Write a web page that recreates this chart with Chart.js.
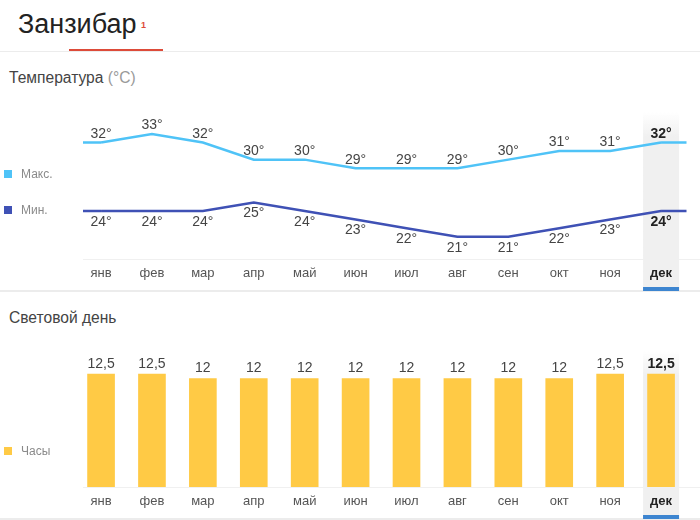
<!DOCTYPE html>
<html lang="ru"><head><meta charset="utf-8">
<script src="https://cdn.jsdelivr.net/npm/chart.js@4"></script>
<style>
html,body{margin:0;padding:0;background:#fff;width:700px;height:520px;overflow:hidden;font-family:"Liberation Sans",Arial,sans-serif}
.a{position:absolute;white-space:nowrap}
canvas{position:absolute;left:0}
.sq{position:absolute;left:4px;width:8px;height:8px}
.lg{position:absolute;left:21px;font-size:12px;line-height:14px;color:#8a8a8a}
.rule{position:absolute;left:0;width:700px;height:2px;background:#ececec}
</style></head><body>
<div class="a" style="left:18px;top:6px;font-size:27px;line-height:36px;color:#222">Занзибар</div>
<div class="a" style="left:141px;top:20px;font-size:9px;line-height:10px;font-weight:bold;color:#dd4b39">1</div>
<div class="rule" style="top:51px;height:1px"></div>
<div class="a" style="left:69px;top:49px;width:94px;height:2px;background:#dd4b39"></div>
<div class="a" style="left:9px;top:68px;font-size:15.6px;line-height:20px;color:#444">Температура <span style="color:#999">(°C)</span></div>
<div class="a" style="left:9px;top:308px;font-size:15.6px;line-height:20px;color:#444">Световой день</div>
<div class="rule" style="top:290px"></div>
<div class="rule" style="top:518px"></div>
<canvas id="temp" width="700" height="191" style="top:100px"></canvas>
<canvas id="sun" width="700" height="180" style="top:339px"></canvas>
<div class="sq" style="top:170px;background:#4fc3f7"></div><div class="lg" style="top:167px">Макс.</div>
<div class="sq" style="top:206px;background:#3f51b5"></div><div class="lg" style="top:203px">Мин.</div>
<div class="sq" style="top:447px;background:#ffca45"></div><div class="lg" style="top:444px">Часы</div>
<script>
const months = ['янв','фев','мар','апр','май','июн','июл','авг','сен','окт','ноя','дек'];
const maxTemp = [32,33,32,30,30,29,29,29,30,31,31,32];
const minTemp = [24,24,24,25,24,23,22,21,21,22,23,24];
const dayHours = [12.5,12.5,12,12,12,12,12,12,12,12,12.5,12.5];
const currentMonth = 11;

const FONT = '"Liberation Sans",Arial,sans-serif';
const band = {id:'band',beforeDraw(c){
  const x=c.scales.x.getPixelForValue(currentMonth), g=c.ctx, top=c.chartArea.top, bot=c.height;
  const gr=g.createLinearGradient(0,top,0,top+25);
  gr.addColorStop(0,'rgba(240,240,240,0)');gr.addColorStop(1,'#f0f0f0');
  g.save();g.fillStyle=gr;g.fillRect(x-18,top,36,bot-top);
  g.fillStyle='#f0f0f0';g.fillRect(83,c.chartArea.bottom,617,1);
  g.fillStyle='#3d85d0';g.fillRect(x-18,bot-4,36,4);g.restore();
}};
const stubs = {id:'stubs',afterDatasetsDraw(c){
  const g=c.ctx;
  c.data.datasets.forEach((d,i)=>{
    const m=c.getDatasetMeta(i).data, a=m[0], b=m[m.length-1];
    g.save();g.strokeStyle=d.borderColor;g.lineWidth=d.borderWidth;g.lineCap='butt';
    g.beginPath();g.moveTo(83,a.y);g.lineTo(a.x,a.y);g.moveTo(b.x,b.y);g.lineTo(686.5,b.y);g.stroke();g.restore();
  });
}};
const labels = {id:'labels',afterDatasetsDraw(c){
  const g=c.ctx;
  c.data.datasets.forEach((d,i)=>{
    c.getDatasetMeta(i).data.forEach((p,k)=>{
      const cur=k===currentMonth;
      g.save();
      g.font=(cur?'bold ':'')+'14px '+FONT;
      g.fillStyle=cur?'#222':'#444';
      g.textAlign='center';g.textBaseline='middle';
      g.fillText(d.fmt(d.data[k]),p.x,p.y+d.off);
      g.restore();
    });
  });
}};
const xAxis = {
  offset:true,
  grid:{display:false,offset:true},
  border:{display:false},
  afterFit(s){s.height=32;},
  ticks:{padding:-1,maxRotation:0,autoSkip:false,
    color:ctx=>ctx.index===currentMonth?'#222':'#555',
    font:ctx=>({family:FONT,size:13,weight:ctx.index===currentMonth?'bold':'normal'})}
};
const base = {responsive:false,animation:false,devicePixelRatio:1,
  plugins:{legend:{display:false},tooltip:{enabled:false}}};

const deg = v=>v+'°';
new Chart(document.getElementById('temp'),{
  type:'line',
  data:{labels:months,datasets:[
    {data:maxTemp,borderColor:'#4fc3f7',borderWidth:2.5,pointRadius:0,tension:0,fmt:deg,off:-8.5},
    {data:minTemp,borderColor:'#3f51b5',borderWidth:2.5,pointRadius:0,tension:0,fmt:deg,off:11}
  ]},
  options:{...base,layout:{padding:{top:12,left:75.6,right:13.5,bottom:0}},
    scales:{x:xAxis,y:{display:false,min:18.4,max:35.56}}},
  plugins:[band,stubs,labels]
});
new Chart(document.getElementById('sun'),{
  type:'bar',
  data:{labels:months,datasets:[
    {data:dayHours,backgroundColor:'#ffca45',barThickness:27,fmt:v=>String(v).replace('.',','),off:-10}
  ]},
  options:{...base,layout:{padding:{top:12,left:75.6,right:13.5,bottom:0}},
    scales:{x:xAxis,y:{display:false,min:0,max:15.04}}},
  plugins:[band,labels]
});
</script></body></html>
